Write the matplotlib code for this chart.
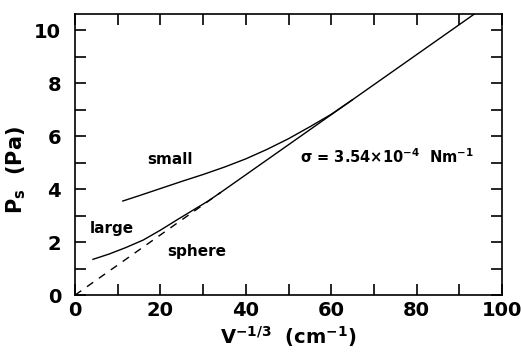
import matplotlib
matplotlib.use('Agg')
import matplotlib.pyplot as plt
from matplotlib.ticker import MultipleLocator

plt.rcParams['font.family'] = ['DejaVu Sans']
plt.rcParams['font.weight'] = 'bold'
plt.rcParams['mathtext.default'] = 'bf'

# sphere line (theory): dashed part and solid part
sphere_dash_x = [0, 34]
sphere_dash_y = [0, 3.86]
sphere_x = [34, 93.5]
sphere_y = [3.86, 10.6]

# large drop curve
large_x = [4.2, 8, 12, 16, 20, 24, 28, 31, 34]
large_y = [1.35, 1.55, 1.80, 2.08, 2.45, 2.85, 3.24, 3.53, 3.86]

# small drop curve
small_x = [11.2, 15, 20, 25, 30, 35, 40, 45, 50, 55, 60, 65]
small_y = [3.55, 3.75, 4.02, 4.29, 4.55, 4.83, 5.14, 5.50, 5.90, 6.35, 6.82, 7.37]

fig = plt.figure(figsize=(5.21, 3.53), dpi=100)
ax = fig.add_axes([0.144, 0.164, 0.8195, 0.796])

ax.plot(sphere_dash_x, sphere_dash_y, color='black', lw=1.0, linestyle=(0, (5.5, 5)))
ax.plot(sphere_x, sphere_y, color='black', lw=1.0)
ax.plot(large_x, large_y, color='black', lw=1.0)
ax.plot(small_x, small_y, color='black', lw=1.0)

ax.text(22.2, 5.1, 'small', fontsize=11, fontweight='bold', ha='center', va='center')
ax.text(8.6, 2.5, 'large', fontsize=11, fontweight='bold', ha='center', va='center')
ax.text(28.5, 1.63, 'sphere', fontsize=11, fontweight='bold', ha='center', va='center')
ax.text(52.7, 5.22, r'$\sigma$ = 3.54×10$^{-4}$  Nm$^{-1}$', fontsize=10.5,
        fontweight='bold', ha='left', va='center')

ax.set_xlim(0, 100)
ax.set_ylim(0, 10.6)
ax.xaxis.set_major_locator(MultipleLocator(20))
ax.xaxis.set_minor_locator(MultipleLocator(10))
ax.yaxis.set_major_locator(MultipleLocator(2))
ax.yaxis.set_minor_locator(MultipleLocator(1))

ax.tick_params(which='both', direction='in', top=True, right=True, length=8, width=1.2)
ax.tick_params(axis='x', labelsize=14, pad=4)
ax.tick_params(axis='y', labelsize=14, pad=10)
for lab in ax.get_xticklabels() + ax.get_yticklabels():
    lab.set_fontweight('bold')
for sp in ax.spines.values():
    sp.set_linewidth(1.2)

ax.set_xlabel(r'V$^{-1/3}$  (cm$^{-1}$)', fontsize=14, fontweight='bold', labelpad=3)
ax.set_ylabel(r'P$_s$  (Pa)', fontsize=15, fontweight='bold')
ax.yaxis.set_label_coords(-0.11, 0.447)

fig.savefig('out.png', dpi=100)
